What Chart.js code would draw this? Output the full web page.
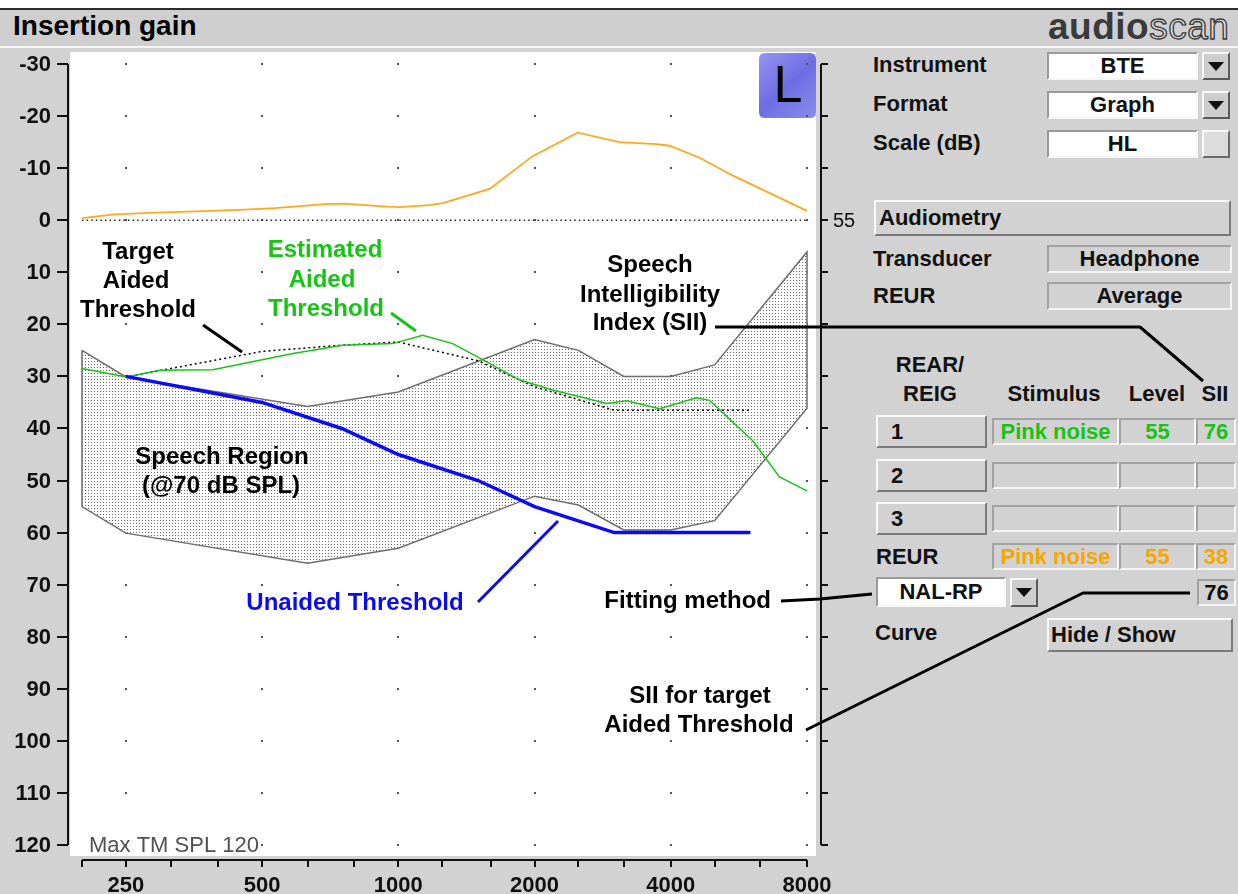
<!DOCTYPE html>
<html>
<head>
<meta charset="utf-8">
<script src="https://cdn.jsdelivr.net/npm/chart.js@4.4.1/dist/chart.umd.min.js"></script>
<style>
html,body{margin:0;padding:0;width:1238px;height:894px;overflow:hidden;background:#d2d2d2;font-family:"Liberation Sans",Arial,sans-serif;position:relative}
#topwhite{position:absolute;left:0;top:0;width:1238px;height:8px;background:#fff}
#titlebar{position:absolute;left:0;top:8px;width:1238px;height:36px;border-top:2px solid #2c2c2c;border-bottom:2px solid #f4f4f4;background:#cfcfcf}
#title{position:absolute;left:13px;top:11px;font-weight:bold;font-size:28px;line-height:30px;color:#000}
#logo{position:absolute;left:1048px;top:8px;font-size:37px;font-weight:bold;line-height:38px;color:#3a3a3a;white-space:nowrap;letter-spacing:0.5px}
#logo span{color:#d8d8d8;-webkit-text-stroke:1.3px #3a3a3a;font-weight:normal}
.lbl{position:absolute;font-weight:bold;font-size:22px;line-height:28px;color:#111;white-space:nowrap}
.c{transform:translateX(-50%)}
.box{position:absolute;box-sizing:border-box;display:flex;align-items:center;justify-content:center;font-weight:bold;font-size:22px;line-height:28px;white-space:nowrap;color:#111}
.w{background:#fff;border:2px solid;border-color:#9a9a9a #f6f6f6 #f6f6f6 #9a9a9a}
.g{background:#d2d2d2;border:2px solid;border-color:#a2a2a2 #f4f4f4 #f4f4f4 #a2a2a2}
.b{background:#d2d2d2;border:2px solid;border-color:#f8f8f8 #7a7a7a #7a7a7a #f8f8f8;justify-content:flex-start}
.dd{position:absolute;box-sizing:border-box;width:28px;height:28px;background:#cdcdcd;border:2px solid;border-color:#f8f8f8 #5a5a5a #5a5a5a #f8f8f8}
.dd::after{content:"";position:absolute;left:4px;top:8px;border-left:8px solid transparent;border-right:8px solid transparent;border-top:9px solid #111}
.sq{position:absolute;box-sizing:border-box;width:28px;height:28px;background:#dcdcdc;border:2px solid;border-color:#f8f8f8 #6a6a6a #6a6a6a #f8f8f8}
.grn{color:#16c416}
.org{color:#f7a600}
#c{position:absolute;left:0;top:0;z-index:5;pointer-events:none}
</style>
</head>
<body>
<div id="topwhite"></div>
<div id="titlebar"></div>
<div id="title">Insertion gain</div>
<div id="logo">audio<span>scan</span></div>

<div class="lbl" style="left:873px;top:51px">Instrument</div>
<div class="box w" style="left:1047px;top:52px;width:151px;height:28px">BTE</div>
<div class="dd" style="left:1202px;top:52px"></div>

<div class="lbl" style="left:873px;top:90px">Format</div>
<div class="box w" style="left:1047px;top:91px;width:151px;height:28px">Graph</div>
<div class="dd" style="left:1202px;top:91px"></div>

<div class="lbl" style="left:873px;top:129px">Scale (dB)</div>
<div class="box w" style="left:1047px;top:130px;width:151px;height:28px">HL</div>
<div class="sq" style="left:1202px;top:130px"></div>

<div class="box b" style="left:874px;top:200px;width:357px;height:36px;padding-left:3px">Audiometry</div>

<div class="lbl" style="left:873px;top:245px">Transducer</div>
<div class="box g" style="left:1047px;top:245px;width:185px;height:28px">Headphone</div>
<div class="lbl" style="left:873px;top:282px">REUR</div>
<div class="box g" style="left:1047px;top:282px;width:185px;height:28px">Average</div>

<div class="lbl c" style="left:930px;top:351px">REAR/</div>
<div class="lbl c" style="left:930px;top:380px">REIG</div>
<div class="lbl c" style="left:1054px;top:380px">Stimulus</div>
<div class="lbl c" style="left:1157px;top:380px">Level</div>
<div class="lbl c" style="left:1215px;top:380px">SII</div>

<div class="box b" style="left:876px;top:415px;width:111px;height:33px;padding-left:13px">1</div>
<div class="box g grn" style="left:992px;top:418px;width:127px;height:27px">Pink noise</div>
<div class="box g grn" style="left:1119px;top:418px;width:77px;height:27px">55</div>
<div class="box g grn" style="left:1196px;top:418px;width:40px;height:27px">76</div>

<div class="box b" style="left:876px;top:459px;width:111px;height:33px;padding-left:13px">2</div>
<div class="box g" style="left:992px;top:462px;width:127px;height:27px"></div>
<div class="box g" style="left:1119px;top:462px;width:77px;height:27px"></div>
<div class="box g" style="left:1196px;top:462px;width:40px;height:27px"></div>

<div class="box b" style="left:876px;top:502px;width:111px;height:33px;padding-left:13px">3</div>
<div class="box g" style="left:992px;top:505px;width:127px;height:27px"></div>
<div class="box g" style="left:1119px;top:505px;width:77px;height:27px"></div>
<div class="box g" style="left:1196px;top:505px;width:40px;height:27px"></div>

<div class="lbl" style="left:876px;top:543px">REUR</div>
<div class="box g org" style="left:992px;top:543px;width:127px;height:27px">Pink noise</div>
<div class="box g org" style="left:1119px;top:543px;width:77px;height:27px">55</div>
<div class="box g org" style="left:1196px;top:543px;width:40px;height:27px">38</div>

<div class="box w" style="left:876px;top:577px;width:130px;height:30px">NAL-RP</div>
<div class="dd" style="left:1010px;top:578px;height:29px"></div>
<div class="box g" style="left:1197px;top:579px;width:39px;height:27px">76</div>

<div class="lbl" style="left:875px;top:619px">Curve</div>
<div class="box b" style="left:1047px;top:618px;width:186px;height:34px;padding-left:2px">Hide / Show</div>

<canvas id="c" width="1238" height="894"></canvas>

<script>
// ---------------- data ----------------
const octaveFreqs = [250, 500, 1000, 2000, 4000, 8000];
const octaveLabels = ['250', '500', '1000', '2000', '4000', '8000'];
const thirdOctaveFreqs = [200, 250, 315, 400, 500, 630, 800, 1000, 1250, 1600, 2000, 2500, 3150, 4000, 5000, 6300, 8000];
const dbTicks = [-30, -20, -10, 0, 10, 20, 30, 40, 50, 60, 70, 80, 90, 100, 110, 120];
const dbLabels = ['-30', '-20', '-10', '0', '10', '20', '30', '40', '50', '60', '70', '80', '90', '100', '110', '120'];

// Speech region (@70 dB SPL)
const speechFreq = [200, 250, 630, 1000, 2000, 2500, 3150, 4000, 5000, 8000];
const speechUpper = [25.0, 30.1, 35.8, 33.0, 22.9, 25.0, 30.0, 30.0, 27.8, 6.1];
const speechLower = [55.0, 60.1, 65.9, 63.0, 53.0, 54.7, 59.5, 59.5, 57.7, 36.1];

// REUR (orange)
const reurFreq = [200, 236, 282, 355, 446, 533, 606, 688, 761, 843, 947, 1007, 1173, 1254, 1592, 1981, 2490, 3083, 3722, 3976, 4631, 5476, 8000];
const reurVal = [-0.4, -1.1, -1.4, -1.7, -2.0, -2.3, -2.7, -3.1, -3.2, -2.9, -2.6, -2.5, -2.9, -3.3, -6.0, -12.3, -16.8, -15.0, -14.6, -14.3, -12.0, -8.6, -1.8];

// Unaided threshold (blue)
const audFreq = [250, 500, 750, 1000, 1500, 2000, 3000, 4000, 6000];
const unaidedVal = [30, 35, 40, 45, 50, 55, 60, 60, 60];
// Target aided threshold (black dotted)
const targetVal = [30.1, 25.2, 24.0, 23.4, 27.0, 32.0, 36.5, 36.5, 36.5];

// Estimated aided threshold (green)
const estFreq = [200, 251, 297, 389, 585, 754, 972, 1132, 1319, 1568, 1855, 2193, 2886, 3195, 3779, 4560, 4873, 6063, 6955, 8000];
const estVal = [28.5, 30.1, 28.8, 28.7, 25.6, 24.0, 23.7, 22.1, 23.7, 27.2, 30.7, 32.6, 35.2, 34.7, 36.2, 34.1, 34.6, 42.3, 49.3, 52.0];

// 0 dB reference
const zeroFreq = [200, 8000];
const zeroVal = [0, 0];

// ---------------- helpers ----------------
const pts = (xs, ys) => xs.map((x, i) => ({x, y: ys[i]}));
const speechShape = pts(speechFreq, speechUpper)
  .concat(pts(speechFreq.slice().reverse(), speechLower.slice().reverse()))
  .concat([{x: speechFreq[0], y: speechUpper[0]}]);

const pc = document.createElement('canvas');
pc.width = 3; pc.height = 3;
const pctx = pc.getContext('2d');
pctx.fillStyle = '#ffffff'; pctx.fillRect(0, 0, 3, 3);
pctx.fillStyle = '#6a6a6a'; pctx.fillRect(1, 1, 1, 1);
const dotPattern = pctx.createPattern(pc, 'repeat');

const GREEN = '#16c416', BLUE = '#0a0af5', ORANGE = '#ffa81a';
const BOLD = 'bold 24px "Liberation Sans", Arial, sans-serif';

// annotation layout (pixels)
const annoTexts = [
  {t: 'Target', x: 138, y: 259, c: '#000'},
  {t: 'Aided', x: 136, y: 288, c: '#000'},
  {t: 'Threshold', x: 138, y: 317, c: '#000'},
  {t: 'Estimated', x: 325, y: 257, c: GREEN},
  {t: 'Aided', x: 322, y: 287, c: GREEN},
  {t: 'Threshold', x: 326, y: 316, c: GREEN},
  {t: 'Speech', x: 650, y: 272, c: '#000'},
  {t: 'Intelligibility', x: 650, y: 302, c: '#000'},
  {t: 'Index (SII)', x: 650, y: 330, c: '#000'},
  {t: 'Speech Region', x: 222, y: 464, c: '#000'},
  {t: '(@70 dB SPL)', x: 221, y: 493, c: '#000'},
  {t: 'Unaided Threshold', x: 355, y: 610, c: BLUE},
  {t: 'Fitting method', x: 771, y: 608, c: '#000', a: 'right'},
  {t: 'SII for target', x: 700, y: 703, c: '#000'},
  {t: 'Aided Threshold', x: 699, y: 732, c: '#000'}
];
const annoLines = [
  {c: '#000', p: [[203, 325], [242, 352]]},
  {c: GREEN, p: [[391, 313], [416, 331]]},
  {c: BLUE, p: [[478, 602], [558, 521]]},
  {c: '#000', p: [[715, 327], [1140, 327], [1203, 381]]},
  {c: '#000', p: [[781, 601], [820, 599], [872, 594]]},
  {c: '#000', p: [[806, 730], [1083, 593], [1190, 593]]}
];

const decor = {
  id: 'decor',
  beforeDraw(chart) {
    const {ctx, chartArea: a} = chart;
    const xs = chart.scales.x, ys = chart.scales.y;
    ctx.save();
    ctx.fillStyle = '#ffffff';
    ctx.fillRect(a.left - 12, a.top - 12, (a.right + 9) - (a.left - 12), (a.bottom + 11) - (a.top - 12));
    // L badge
    const bx = a.right - 48, by = a.top - 11, bw = 57, bh = 65, r = 6;
    const grad = ctx.createLinearGradient(bx, by, bx + bw, by + bh);
    grad.addColorStop(0, '#9494f2'); grad.addColorStop(0.5, '#6e6ee4'); grad.addColorStop(1, '#8a8aee');
    ctx.fillStyle = grad;
    ctx.beginPath();
    ctx.moveTo(bx + r, by); ctx.lineTo(bx + bw - r, by); ctx.quadraticCurveTo(bx + bw, by, bx + bw, by + r);
    ctx.lineTo(bx + bw, by + bh - r); ctx.quadraticCurveTo(bx + bw, by + bh, bx + bw - r, by + bh);
    ctx.lineTo(bx + r, by + bh); ctx.quadraticCurveTo(bx, by + bh, bx, by + bh - r);
    ctx.lineTo(bx, by + r); ctx.quadraticCurveTo(bx, by, bx + r, by);
    ctx.fill();
    ctx.fillStyle = '#000';
    ctx.font = '52px "Liberation Sans", Arial, sans-serif';
    ctx.textAlign = 'center'; ctx.textBaseline = 'alphabetic';
    ctx.fillText('L', bx + 29, by + 49);
    // grid dots
    ctx.fillStyle = '#555';
    for (const f of octaveFreqs) {
      for (const v of dbTicks) {
        ctx.fillRect(Math.round(xs.getPixelForValue(f)) - 1, Math.round(ys.getPixelForValue(v)) - 1, 2, 2);
      }
    }
    ctx.restore();
  },
  afterDraw(chart) {
    const {ctx, chartArea: a} = chart;
    const xs = chart.scales.x, ys = chart.scales.y;
    ctx.save();
    ctx.strokeStyle = '#111'; ctx.fillStyle = '#111'; ctx.lineWidth = 2;
    // left axis
    const lx = a.left - 14;
    ctx.beginPath(); ctx.moveTo(lx, ys.getPixelForValue(-30)); ctx.lineTo(lx, ys.getPixelForValue(120)); ctx.stroke();
    ctx.font = 'bold 22px "Liberation Sans", Arial, sans-serif';
    ctx.textAlign = 'right'; ctx.textBaseline = 'middle';
    dbTicks.forEach((v, i) => {
      const y = Math.round(ys.getPixelForValue(v));
      ctx.beginPath(); ctx.moveTo(lx - 11, y); ctx.lineTo(lx, y); ctx.stroke();
      ctx.fillText(dbLabels[i], lx - 17, y + 1);
    });
    // right axis
    const rx = a.right + 14;
    ctx.beginPath(); ctx.moveTo(rx, ys.getPixelForValue(-30)); ctx.lineTo(rx, ys.getPixelForValue(120)); ctx.stroke();
    dbTicks.forEach(v => {
      const y = Math.round(ys.getPixelForValue(v));
      ctx.beginPath(); ctx.moveTo(rx, y); ctx.lineTo(rx + 7, y); ctx.stroke();
    });
    ctx.font = '20px "Liberation Sans", Arial, sans-serif';
    ctx.textAlign = 'left';
    ctx.fillText('55', rx + 12, ys.getPixelForValue(0) + 1);
    // bottom axis
    const byy = a.bottom + 15;
    ctx.beginPath(); ctx.moveTo(xs.getPixelForValue(200), byy); ctx.lineTo(xs.getPixelForValue(8000), byy); ctx.stroke();
    thirdOctaveFreqs.forEach(f => {
      const x = Math.round(xs.getPixelForValue(f));
      ctx.beginPath(); ctx.moveTo(x, byy); ctx.lineTo(x, byy + 7); ctx.stroke();
    });
    ctx.font = 'bold 22px "Liberation Sans", Arial, sans-serif';
    ctx.textAlign = 'center'; ctx.textBaseline = 'alphabetic';
    octaveFreqs.forEach((f, i) => ctx.fillText(octaveLabels[i], xs.getPixelForValue(f), byy + 32));
    // Max TM SPL
    ctx.font = '22px "Liberation Sans", Arial, sans-serif';
    ctx.fillStyle = '#505050'; ctx.textAlign = 'left';
    ctx.fillText('Max TM SPL 120', a.left + 7, a.bottom + 7);
    // leader lines
    ctx.lineWidth = 3; ctx.lineJoin = 'round'; ctx.lineCap = 'butt';
    annoLines.forEach(l => {
      ctx.strokeStyle = l.c;
      ctx.beginPath();
      l.p.forEach((p, i) => i ? ctx.lineTo(p[0], p[1]) : ctx.moveTo(p[0], p[1]));
      ctx.stroke();
    });
    // annotation texts
    ctx.font = BOLD;
    annoTexts.forEach(t => {
      ctx.fillStyle = t.c;
      ctx.textAlign = t.a || 'center';
      ctx.fillText(t.t, t.x, t.y);
    });
    ctx.restore();
  }
};

new Chart(document.getElementById('c'), {
  type: 'line',
  data: {
    datasets: [
      {label: 'REUR', data: pts(reurFreq, reurVal), borderColor: ORANGE, borderWidth: 1.8, order: 2, clip: false},
      {label: 'Unaided Threshold', data: pts(audFreq, unaidedVal), borderColor: BLUE, borderWidth: 3.5, order: 1, clip: false},
      {label: 'Target Aided Threshold', data: pts(audFreq, targetVal), borderColor: '#000', borderWidth: 1.5, borderDash: [2, 3], order: 3, clip: false},
      {label: 'Estimated Aided Threshold', data: pts(estFreq, estVal), borderColor: GREEN, borderWidth: 1.5, order: 2, clip: false},
      {label: '0 dB', data: pts(zeroFreq, zeroVal), borderColor: '#222', borderWidth: 1.4, borderDash: [1.5, 3.1], order: 5, clip: false},
      {label: 'Speech Region', data: speechShape, borderColor: '#6e6e6e', borderWidth: 1.5, backgroundColor: dotPattern, fill: 'shape', order: 10, clip: false}
    ]
  },
  options: {
    responsive: false,
    animation: false,
    devicePixelRatio: 1,
    layout: {padding: {left: 82, right: 431, top: 64, bottom: 49}},
    scales: {
      x: {type: 'logarithmic', min: 200, max: 8000, display: false},
      y: {type: 'linear', min: -30, max: 120, reverse: true, display: false}
    },
    elements: {point: {radius: 0}, line: {tension: 0}},
    plugins: {legend: {display: false}, tooltip: {enabled: false}}
  },
  plugins: [decor]
});
</script>
</body>
</html>
